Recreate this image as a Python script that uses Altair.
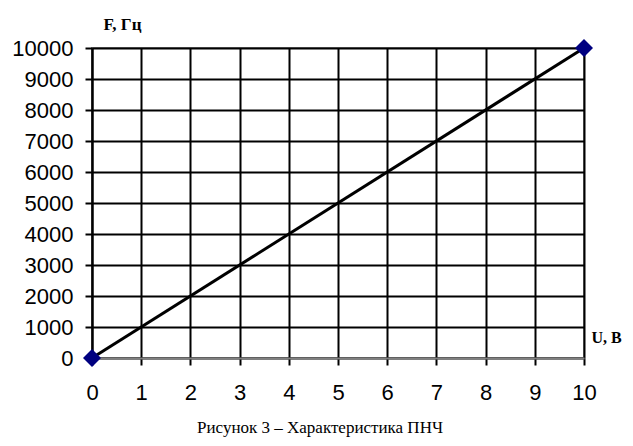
import altair as alt
import pandas as pd

u_values = [0, 10]
f_values = [0, 10000]
x_ticks = list(range(0, 11))
y_ticks = list(range(0, 10001, 1000))

df = pd.DataFrame({"U": u_values, "F": f_values})

base = alt.Chart(df)

x_enc = alt.X(
    "U:Q",
    scale=alt.Scale(domain=[0, 10], nice=False),
    axis=alt.Axis(
        values=x_ticks,
        format="d",
        labelOverlap=False,
        labelFlush=False,
        title="U, В",
        titleFont="Liberation Serif",
        titleFontWeight="bold",
        titleFontSize=16,
        titleColor="black",
        titleAngle=0,
        titleAlign="center",
        titleBaseline="middle",
        titleX=514,
        titleY=-21,
        labelFont="Liberation Sans",
        labelFontSize=22,
        labelColor="black",
        labelPadding=17,
        tickColor="black",
        tickWidth=2,
        tickSize=7,
        domainColor="#808080",
        domainWidth=2,
        gridColor="black",
        gridWidth=2,
        gridOpacity=1,
    ),
)
y_enc = alt.Y(
    "F:Q",
    scale=alt.Scale(domain=[0, 10000], nice=False),
    axis=alt.Axis(
        values=y_ticks,
        tickCount=11,
        format="d",
        labelOverlap=False,
        labelFlush=False,
        title="F, Гц",
        titleFont="Liberation Serif",
        titleFontWeight="bold",
        titleFontSize=17,
        titleColor="black",
        titleAngle=0,
        titleAlign="center",
        titleBaseline="middle",
        titleX=30,
        titleY=-24,
        labelFont="Liberation Sans",
        labelFontSize=22,
        labelColor="black",
        labelPadding=12,
        tickColor="black",
        tickWidth=2,
        tickSize=7,
        domainColor="black",
        domainWidth=2,
        gridColor="black",
        gridWidth=2,
        gridOpacity=1,
    ),
)

line = base.mark_line(color="black", strokeWidth=3).encode(x=x_enc, y=y_enc)
points = base.mark_point(
    shape="diamond", filled=True, color="#000080", size=324, opacity=1
).encode(x=x_enc, y=y_enc)

chart = (
    alt.layer(line, points)
    .properties(
        width=492,
        height=310,
        autosize=alt.AutoSizeParams(type="none"),
        padding={"left": 84, "top": 40, "right": 41, "bottom": 80},
        title=alt.TitleParams(
            "Рисунок 3 – Характеристика ПНЧ",
            orient="bottom",
            anchor="middle",
            font="Liberation Serif",
            fontSize=17,
            fontWeight="normal",
            color="black",
            offset=17,
            dx=-18,
        ),
        background="white",
    )
    .configure_view(stroke="#808080", strokeWidth=2)
)

chart.save("out.html", embed_options={"renderer": "svg", "actions": False})
